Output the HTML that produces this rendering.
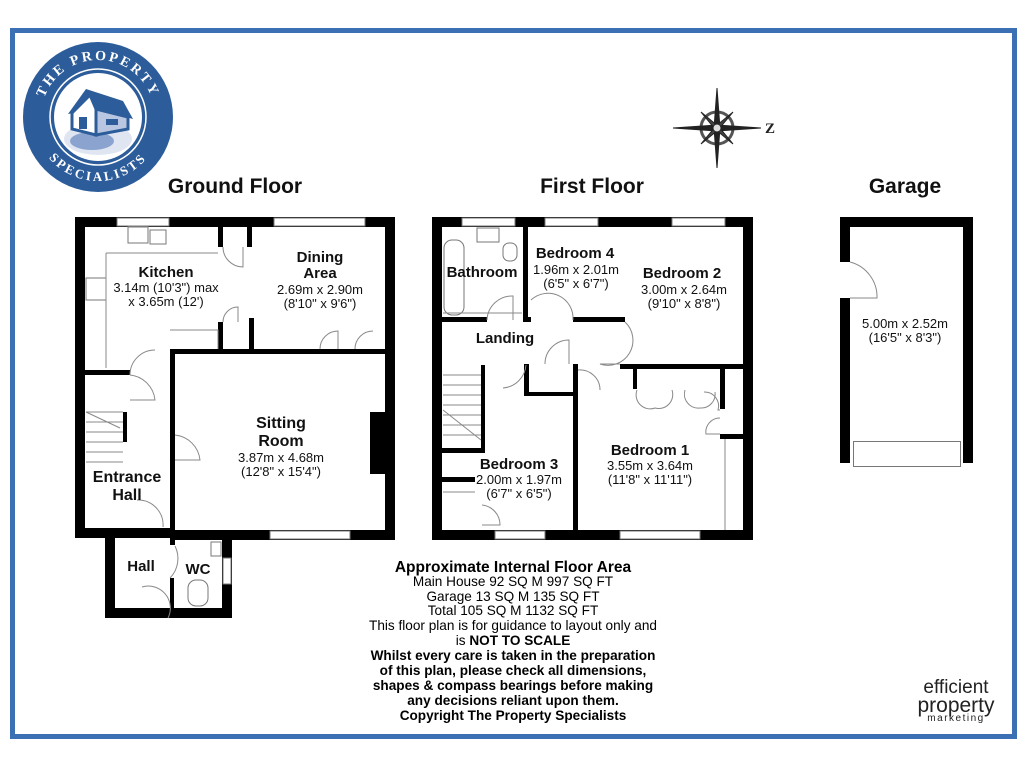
<!DOCTYPE html>
<html><head><meta charset="utf-8"><style>
body{margin:0;background:#fff;}
svg{display:block;font-family:"Liberation Sans",Arial,sans-serif;}
</style></head><body>
<svg width="1024" height="768" viewBox="0 0 1024 768" xmlns="http://www.w3.org/2000/svg">
<defs>
<path id="arcTop" d="M-57,0 A57,57 0 0 1 57,0"/>
<path id="arcBot" d="M-64,0 A64,64 0 0 0 64,0"/>
</defs>
<rect x="0" y="0" width="1024" height="768" fill="#fff"/>
<rect x="12.5" y="30.5" width="1002" height="706" fill="none" stroke="#3b70b5" stroke-width="5"/>

<!-- logo -->
<g transform="translate(98,117)">
<circle r="75" fill="#2c5d9a"/>
<circle r="44" fill="#fff"/>
<circle r="48" fill="none" stroke="#fff" stroke-width="1.5"/>
<ellipse cx="0" cy="22" rx="34" ry="16" fill="#dfe6f2"/>
<ellipse cx="-6" cy="24" rx="22" ry="9" fill="#8aa3cf"/>
<polygon points="-30,-3 -12,-28 25,-16 35,2 -2,-8" fill="#2c5d9a"/>
<polygon points="-26,-4 -8,-22 -2,-8 -2,18 -26,12" fill="#fff" stroke="#2c5d9a" stroke-width="3"/>
<polygon points="-2,-8 30,0 30,12 -2,18" fill="#b9c6e2" stroke="#2c5d9a" stroke-width="3"/>
<rect x="-19" y="0" width="8" height="12" fill="#2c5d9a"/>
<rect x="8" y="2" width="12" height="6" fill="#2c5d9a"/>
<text fill="#fff" font-family="Liberation Serif,serif" font-weight="bold" font-size="14" letter-spacing="2.5"><textPath href="#arcTop" startOffset="50%" text-anchor="middle">THE PROPERTY</textPath></text>
<text fill="#fff" font-family="Liberation Serif,serif" font-weight="bold" font-size="13" letter-spacing="2.5"><textPath href="#arcBot" startOffset="50%" text-anchor="middle">SPECIALISTS</textPath></text>
</g>

<!-- compass -->
<g transform="translate(717,128)" stroke="#222">
<circle r="16" fill="none" stroke-width="3" stroke="#555"/>
<polygon points="-44,0 0,-3 44,0 0,3" fill="#222"/>
<polygon points="0,-40 3,0 0,40 -3,0" fill="#222"/>
<polygon points="-16,-16 2,-1 16,16 -2,1" fill="#444"/>
<polygon points="16,-16 1,2 -16,16 -1,-2" fill="#444"/>
<circle r="4" fill="#ddd"/>
</g>
<text x="770" y="133" font-family="Liberation Serif,serif" font-weight="bold" font-size="15" fill="#222" text-anchor="middle">Z</text>

<!-- titles -->
<g font-weight="bold" font-size="21" fill="#111" text-anchor="middle">
<text x="235" y="193">Ground Floor</text>
<text x="592" y="193">First Floor</text>
<text x="905" y="193">Garage</text>
</g>

<!-- GROUND FLOOR -->
<g fill="#000">
<rect x="75" y="217" width="320" height="10"/>
<rect x="75" y="217" width="10" height="321"/>
<rect x="385" y="217" width="10" height="323"/>
<rect x="170" y="530" width="225" height="10"/>
<rect x="75" y="528" width="100" height="10"/>
<rect x="105" y="528" width="10" height="90"/>
<rect x="105" y="608" width="127" height="10"/>
<rect x="222" y="530" width="10" height="88"/>
<rect x="170" y="349" width="215" height="5"/>
<rect x="170" y="349" width="5" height="181"/>
<rect x="85" y="370" width="45" height="5"/>
<rect x="123" y="412" width="4" height="30"/>
<rect x="218" y="227" width="5" height="20"/>
<rect x="247" y="227" width="5" height="20"/>
<rect x="218" y="322" width="5" height="28"/>
<rect x="249" y="318" width="5" height="32"/>
<rect x="370" y="412" width="15" height="62"/>
<rect x="170" y="535" width="5" height="10"/>
<rect x="170" y="578" width="4" height="30"/>
</g>
<g fill="#fff" stroke="#777" stroke-width="1">
<rect x="117" y="218" width="52" height="8"/>
<rect x="274" y="218" width="91" height="8"/>
<rect x="270" y="531" width="80" height="8"/>
<rect x="223" y="558" width="8" height="26"/>
<rect x="128" y="227" width="20" height="16"/>
<rect x="150" y="230" width="16" height="14"/>
<rect x="86" y="278" width="20" height="22"/>
<rect x="188" y="580" width="20" height="26" rx="8"/>
<rect x="211" y="542" width="10" height="14"/>
</g>
<g fill="none" stroke="#888" stroke-width="1">
<path d="M106 253 L218 253 M106 253 L106 368"/>
<path d="M170 330 L218 330 L218 349"/>
<path d="M223 247 A20 20 0 0 0 243 267 L243 247"/>
<path d="M223 322 A15 15 0 0 1 238 307 L238 322"/>
<path d="M320 349 A18 18 0 0 1 338 331 L338 349 M355 349 A18 18 0 0 1 373 331"/>
<path d="M130 375 A25 25 0 0 1 155 350 M130 375 A28 28 0 0 1 155 400 L130 400"/>
<path d="M175 435 A28 28 0 0 1 200 460 L175 460"/>
<path d="M137 500 A25 25 0 0 1 163 527 M142 587 A22 22 0 0 1 168 618"/>
<path d="M86 412 L123 412 M86 422 L123 422 M86 432 L123 432 M86 442 L123 442 M86 452 L123 452 M86 462 L123 462 M86 412 L120 428"/>
<path d="M175 546 A28 28 0 0 1 170 578"/>
</g>
<g fill="#111" text-anchor="middle">
<text x="166" y="277" font-weight="bold" font-size="15">Kitchen</text>
<text x="166" y="292" font-size="13">3.14m (10'3") max</text>
<text x="166" y="306" font-size="13">x 3.65m (12')</text>
<text x="320" y="262" font-weight="bold" font-size="15">Dining</text>
<text x="320" y="278" font-weight="bold" font-size="15">Area</text>
<text x="320" y="294" font-size="13">2.69m x 2.90m</text>
<text x="320" y="308" font-size="13">(8'10" x 9'6")</text>
<text x="281" y="428" font-weight="bold" font-size="16">Sitting</text>
<text x="281" y="446" font-weight="bold" font-size="16">Room</text>
<text x="281" y="462" font-size="13">3.87m x 4.68m</text>
<text x="281" y="476" font-size="13">(12'8" x 15'4")</text>
<text x="127" y="482" font-weight="bold" font-size="16">Entrance</text>
<text x="127" y="500" font-weight="bold" font-size="16">Hall</text>
<text x="141" y="571" font-weight="bold" font-size="15">Hall</text>
<text x="198" y="574" font-weight="bold" font-size="15">WC</text>
</g>

<!-- FIRST FLOOR -->
<g fill="#000">
<rect x="432" y="217" width="321" height="10"/>
<rect x="432" y="217" width="10" height="323"/>
<rect x="743" y="217" width="10" height="323"/>
<rect x="432" y="530" width="321" height="10"/>
<rect x="523" y="227" width="5" height="95"/>
<rect x="442" y="317" width="45" height="5"/>
<rect x="523" y="317" width="8" height="5"/>
<rect x="573" y="317" width="52" height="5"/>
<rect x="620" y="364" width="133" height="5"/>
<rect x="573" y="364" width="5" height="168"/>
<rect x="524" y="364" width="5" height="32"/>
<rect x="524" y="392" width="52" height="4"/>
<rect x="481" y="365" width="4" height="88"/>
<rect x="442" y="448" width="43" height="5"/>
<rect x="442" y="477" width="33" height="5"/>
<rect x="720" y="369" width="5" height="40"/>
<rect x="720" y="434" width="33" height="5"/>
<rect x="633" y="369" width="4" height="20"/>
</g>
<g fill="#fff" stroke="#777" stroke-width="1">
<rect x="462" y="218" width="53" height="8"/>
<rect x="545" y="218" width="53" height="8"/>
<rect x="672" y="218" width="53" height="8"/>
<rect x="495" y="531" width="50" height="8"/>
<rect x="620" y="531" width="80" height="8"/>
<rect x="444" y="240" width="20" height="75" rx="8"/>
<rect x="477" y="228" width="22" height="14"/>
<rect x="503" y="243" width="14" height="18" rx="6"/>
</g>
<g fill="none" stroke="#888" stroke-width="1">
<path d="M443 313 L522 313"/>
<path d="M487 320 A25 25 0 0 1 513 296 L513 320"/>
<path d="M531 300 A25 25 0 0 1 573 320"/>
<path d="M545 364 A24 24 0 0 1 569 340 L569 364"/>
<path d="M526 365 A25 25 0 0 1 503 388"/>
<path d="M625 322 A25 25 0 0 1 600 364 L620 364"/>
<path d="M578 370 A20 20 0 0 1 600 390"/>
<path d="M637 390 A14 14 0 0 0 655 408 A14 14 0 0 0 672 390 M685 390 A14 14 0 0 0 700 408 A14 14 0 0 0 715 392 M704 392 A14 14 0 0 1 718 410 L720 410"/>
<path d="M720 418 A14 14 0 0 0 706 434 L720 434 M725 439 L725 530"/>
<path d="M443 375 L481 375 M443 385 L481 385 M443 395 L481 395 M443 405 L481 405 M443 415 L481 415 M443 425 L481 425 M443 435 L481 435 M443 410 L481 440"/>
<path d="M443 492 L475 492"/>
<path d="M482 505 A20 20 0 0 1 500 525 L482 525"/>
</g>
<g fill="#111" text-anchor="middle">
<text x="482" y="277" font-weight="bold" font-size="15">Bathroom</text>
<text x="575" y="258" font-weight="bold" font-size="15">Bedroom 4</text>
<text x="576" y="274" font-size="13">1.96m x 2.01m</text>
<text x="576" y="288" font-size="13">(6'5" x 6'7")</text>
<text x="682" y="278" font-weight="bold" font-size="15">Bedroom 2</text>
<text x="684" y="294" font-size="13">3.00m x 2.64m</text>
<text x="684" y="308" font-size="13">(9'10" x 8'8")</text>
<text x="505" y="343" font-weight="bold" font-size="15">Landing</text>
<text x="519" y="469" font-weight="bold" font-size="15">Bedroom 3</text>
<text x="519" y="484" font-size="13">2.00m x 1.97m</text>
<text x="519" y="498" font-size="13">(6'7" x 6'5")</text>
<text x="650" y="455" font-weight="bold" font-size="15">Bedroom 1</text>
<text x="650" y="470" font-size="13">3.55m x 3.64m</text>
<text x="650" y="484" font-size="13">(11'8" x 11'11")</text>
</g>

<!-- GARAGE -->
<g fill="#000">
<rect x="840" y="217" width="133" height="10"/>
<rect x="840" y="217" width="10" height="45"/>
<rect x="840" y="298" width="10" height="165"/>
<rect x="963" y="217" width="10" height="246"/>
</g>
<rect x="853.5" y="441.5" width="107" height="25" fill="#fff" stroke="#777"/>
<path d="M850 262 A36 36 0 0 1 877 298 L850 298" fill="none" stroke="#888"/>
<g fill="#111" text-anchor="middle" font-size="13">
<text x="905" y="328">5.00m x 2.52m</text>
<text x="905" y="342">(16'5" x 8'3")</text>
</g>

<!-- notes -->
<g fill="#000" text-anchor="middle" font-size="13.6">
<text x="513" y="572" font-weight="bold" font-size="15.5">Approximate Internal Floor Area</text>
<text x="513" y="586">Main House 92 SQ M 997 SQ FT</text>
<text x="513" y="601">Garage 13 SQ M 135 SQ FT</text>
<text x="513" y="615">Total 105 SQ M 1132 SQ FT</text>
<text x="513" y="630">This floor plan is for guidance to layout only and</text>
<text x="513" y="645">is <tspan font-weight="bold">NOT TO SCALE</tspan></text>
<g font-weight="bold">
<text x="513" y="660">Whilst every care is taken in the preparation</text>
<text x="513" y="675">of this plan, please check all dimensions,</text>
<text x="513" y="690">shapes &amp; compass bearings before making</text>
<text x="513" y="705">any decisions reliant upon them.</text>
<text x="513" y="720">Copyright The Property Specialists</text>
</g>
</g>

<!-- efficient property marketing -->
<g fill="#222" text-anchor="middle">
<text x="956" y="693" font-size="19">efficient</text>
<text x="956" y="712" font-size="21">property</text>
<text x="956" y="721" font-size="10" letter-spacing="1.5">marketing</text>
</g>
</svg>
</body></html>
